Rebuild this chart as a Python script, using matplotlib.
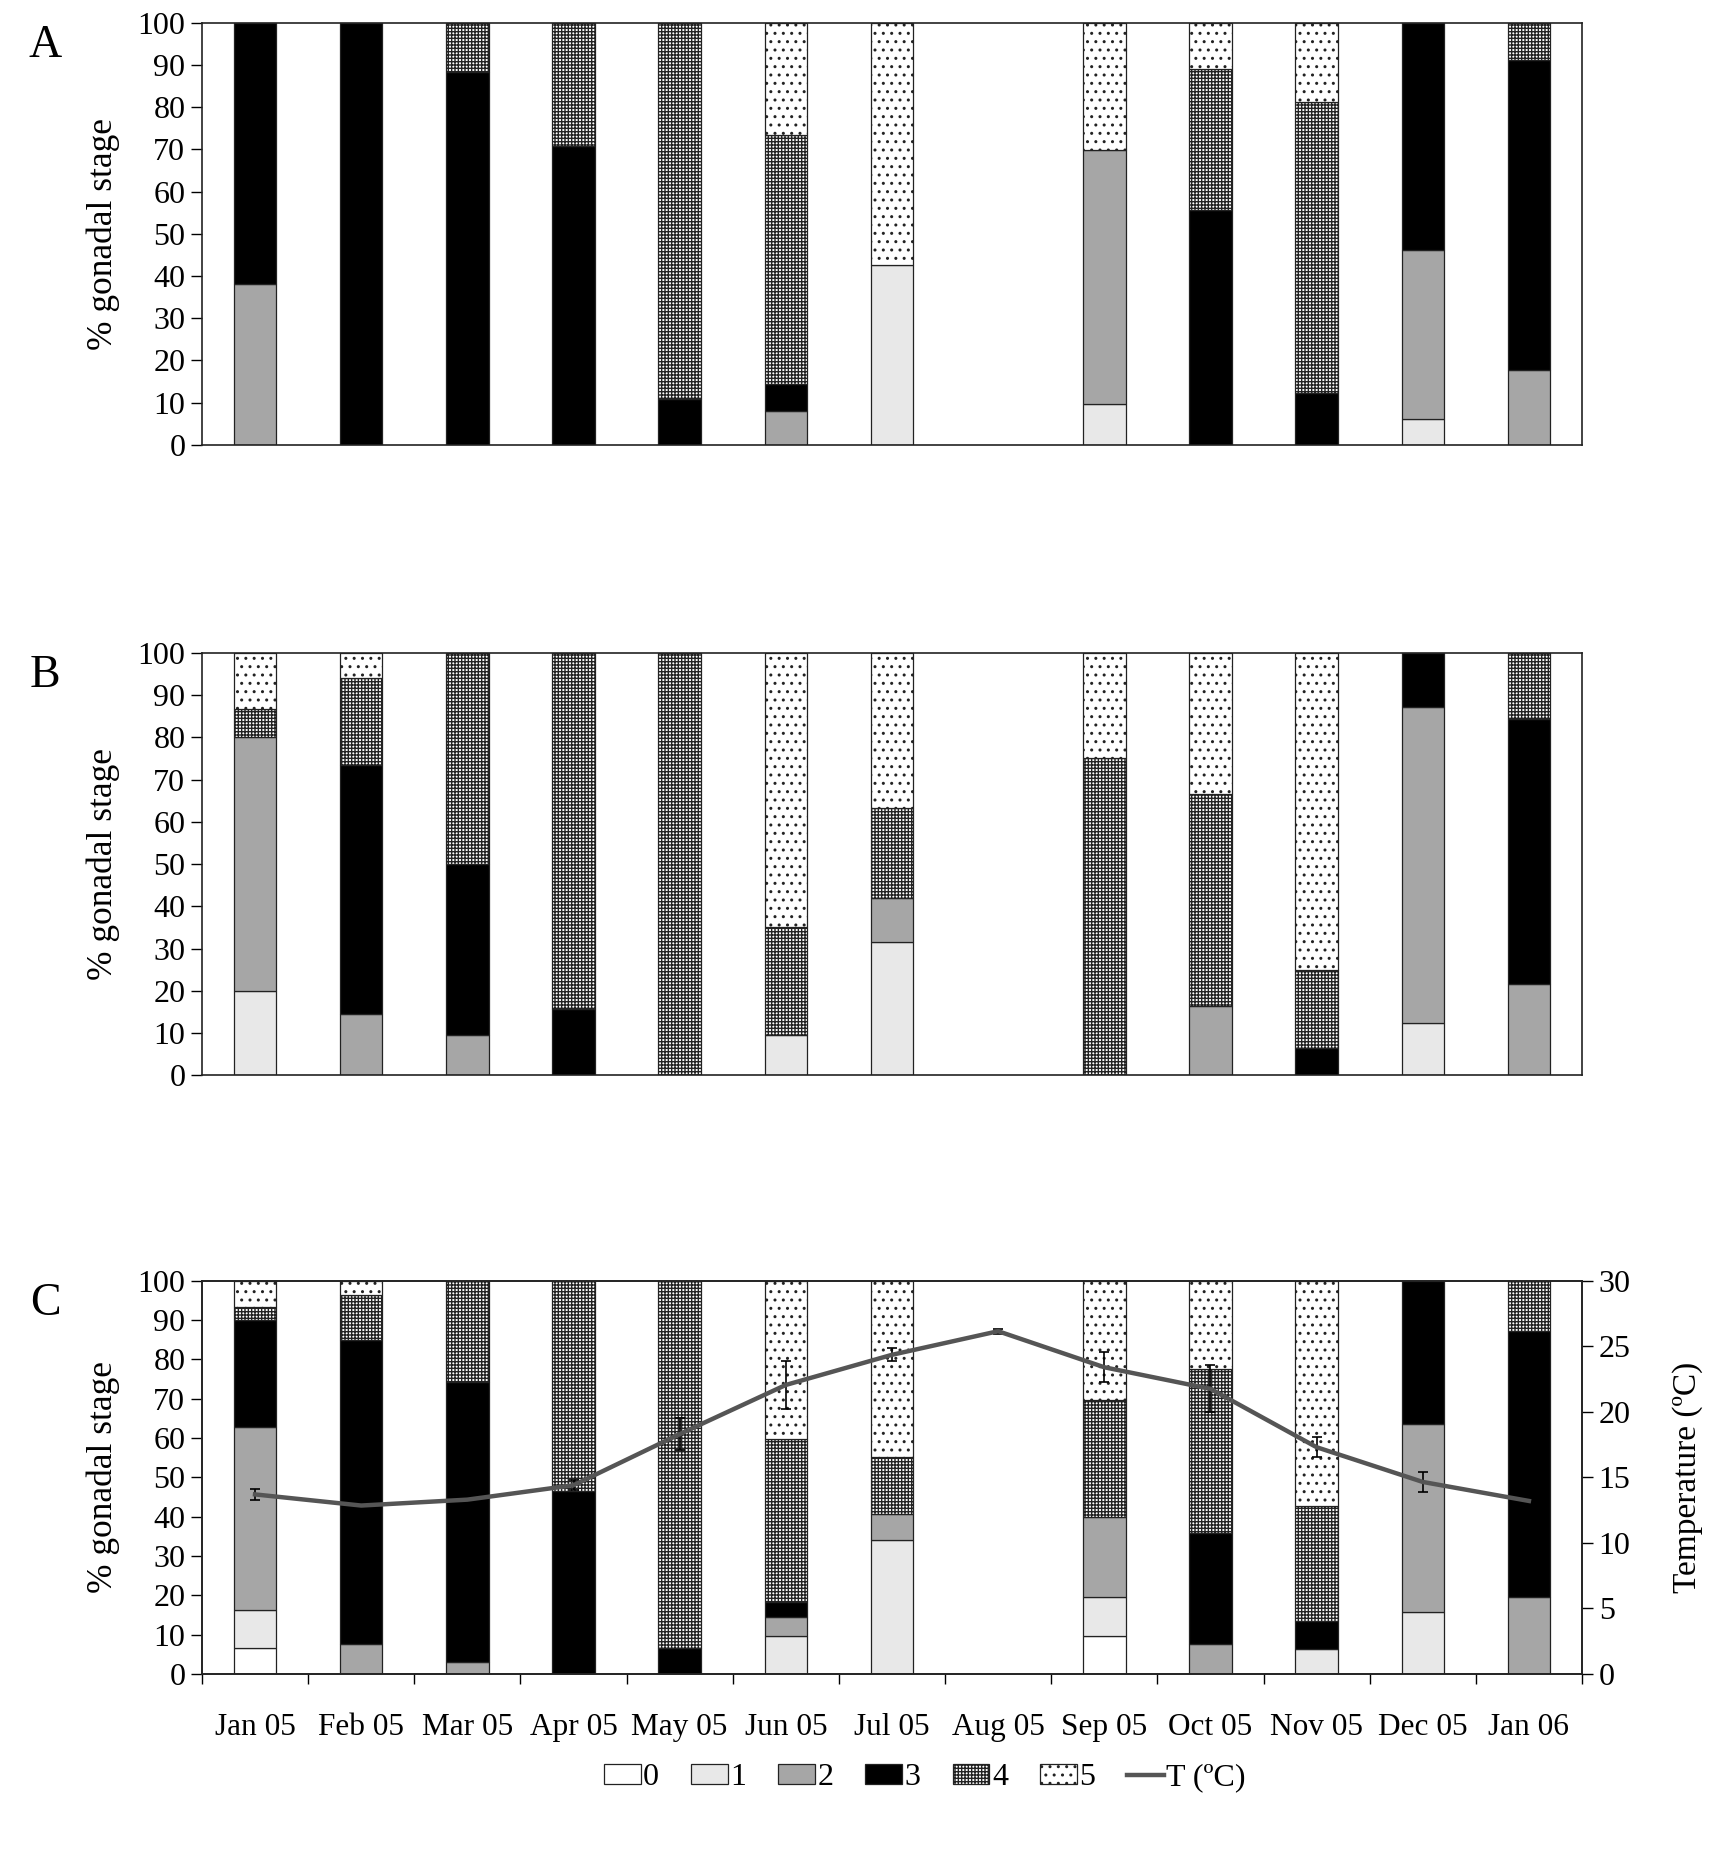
import matplotlib
matplotlib.use("Agg")
import matplotlib.pyplot as plt
from matplotlib.patches import Patch
from matplotlib.lines import Line2D
import numpy as np

plt.rcParams['font.family'] = ['Liberation Serif', 'DejaVu Serif']
plt.rcParams['font.size'] = 23
plt.rcParams['hatch.linewidth'] = 1.0

months = ["Jan 05", "Feb 05", "Mar 05", "Apr 05", "May 05", "Jun 05", "Jul 05",
          "Aug 05", "Sep 05", "Oct 05", "Nov 05", "Dec 05", "Jan 06"]
stage_labels = ["0", "1", "2", "3", "4", "5"]

# Panel A (% per gonadal stage)
A_s0 = [0, 0, 0, 0, 0, 0, 0, 0, 0, 0, 0, 0, 0]
A_s1 = [0, 0, 0, 0, 0, 0, 42.5, 0, 9.8, 0, 0, 6.2, 0]
A_s2 = [38.0, 0, 0, 0, 0, 8.1, 0, 0, 60.0, 0, 0, 40.0, 17.7]
A_s3 = [62.0, 100, 88.4, 70.8, 11.0, 6.3, 0, 0, 0, 55.6, 12.2, 53.8, 73.4]
A_s4 = [0, 0, 11.6, 29.2, 89.0, 59.0, 0, 0, 0, 33.3, 68.9, 0, 8.9]
A_s5 = [0, 0, 0, 0, 0, 26.6, 57.5, 0, 30.2, 11.1, 18.9, 0, 0]

# Panel B
B_s0 = [0, 0, 0, 0, 0, 0, 0, 0, 0, 0, 0, 0, 0]
B_s1 = [20.0, 0, 0, 0, 0, 9.5, 31.5, 0, 0, 0, 0, 12.5, 0]
B_s2 = [60.0, 14.5, 9.5, 0, 0, 0, 10.5, 0, 0, 16.4, 0, 74.6, 21.5]
B_s3 = [0, 58.9, 40.5, 15.6, 0, 0, 0, 0, 0, 0, 6.4, 12.9, 62.9]
B_s4 = [6.7, 20.7, 50.0, 84.4, 100, 25.7, 21.2, 0, 75.2, 50.2, 18.5, 0, 15.6]
B_s5 = [13.3, 5.9, 0, 0, 0, 64.8, 36.8, 0, 24.8, 33.4, 75.1, 0, 0]

# Panel C
C_s0 = [6.5, 0, 0, 0, 0, 0, 0, 0, 9.7, 0, 0, 0, 0]
C_s1 = [9.8, 0, 0, 0, 0, 9.7, 34.0, 0, 9.8, 0, 6.4, 15.7, 0]
C_s2 = [46.4, 7.7, 3.0, 0, 0, 4.9, 6.7, 0, 20.3, 7.7, 0, 47.9, 19.6]
C_s3 = [27.3, 77.2, 71.2, 46.6, 6.7, 3.8, 0, 0, 0, 28.1, 7.1, 36.4, 67.5]
C_s4 = [3.2, 11.6, 25.8, 53.4, 93.3, 41.4, 14.4, 0, 29.9, 41.8, 29.3, 0, 12.9]
C_s5 = [6.8, 3.5, 0, 0, 0, 40.2, 44.9, 0, 30.3, 22.4, 57.2, 0, 0]

# Temperature (ºC), mean and error
temp = [13.7, 12.85, 13.3, 14.4, 18.3, 22.05, 24.35, 26.15, 23.4, 21.75, 17.3, 14.65, 13.2]
temp_err = [0.4, 0, 0, 0.4, 1.2, 1.85, 0.5, 0.2, 1.15, 1.8, 0.75, 0.75, 0]

# styles per stage
faces = ["white", "#e8e8e8", "#a6a6a6", "black", "white", "white"]
hatches = [None, None, None, None, "+++++", ".."]

fig = plt.figure(figsize=(17.32, 18.54), dpi=100)
left, width = 0.1166, 0.7968
ax_A = fig.add_axes([left, 0.7600, width, 0.2278])
ax_B = fig.add_axes([left, 0.4200, width, 0.2279])
ax_C = fig.add_axes([left, 0.0971, width, 0.2121])

x = np.arange(len(months))

def draw_panel(ax, stages, letter, show_x):
    bottom = np.zeros(len(months))
    for i, vals in enumerate(stages):
        vals = np.array(vals, dtype=float)
        lw = [0.9 if v > 0 else 0 for v in vals]
        ax.bar(x, vals, width=0.4, bottom=bottom, color=faces[i],
               edgecolor="#222222", linewidth=lw, hatch=hatches[i], zorder=2)
        bottom += vals
    ax.set_xlim(-0.5, len(months) - 0.5)
    ax.set_ylim(0, 100)
    ax.set_yticks(np.arange(0, 101, 10))
    ax.tick_params(axis='y', direction='out', length=8, width=1.0, pad=4,
                   labelsize=23)
    for sp in ax.spines.values():
        sp.set_linewidth(1.2)
        sp.set_color("#222222")
    if show_x:
        ax.set_xticks(np.arange(-0.5, len(months), 1.0))
        ax.set_xticklabels([])
        ax.set_xticks(x, minor=True)
        ax.set_xticklabels(months, minor=True)
        ax.tick_params(axis='x', which='major', direction='out', length=7.5, width=1.0)
        ax.tick_params(axis='x', which='minor', length=0, pad=28, labelsize=22.5)
    else:
        ax.set_xticks([])
    ax.set_ylabel("% gonadal stage", fontsize=25.5)
    ax.yaxis.set_label_coords(-0.0594, 0.5)
    pos = ax.get_position()
    fig.text(0.026, pos.y1 - 0.0125, letter, fontsize=33, ha='center', va='center')

draw_panel(ax_A, [A_s0, A_s1, A_s2, A_s3, A_s4, A_s5], "A", False)
draw_panel(ax_B, [B_s0, B_s1, B_s2, B_s3, B_s4, B_s5], "B", False)
draw_panel(ax_C, [C_s0, C_s1, C_s2, C_s3, C_s4, C_s5], "C", True)

# Temperature line on secondary axis
ax_T = ax_C.twinx()
ax_T.set_ylim(0, 30)
ax_T.set_yticks(np.arange(0, 31, 5))
ax_T.tick_params(axis='y', direction='out', length=8, width=1.0, labelsize=23, pad=4)
ax_T.set_ylabel("Temperature (ºC)", fontsize=24)
ax_T.yaxis.set_label_coords(1.065, 0.5)
for sp in ax_T.spines.values():
    sp.set_linewidth(1.2)
    sp.set_color("#222222")
temp_arr = np.array(temp)
err_arr = np.array(temp_err)
mask = err_arr > 0
ax_T.errorbar(x[mask], temp_arr[mask], yerr=err_arr[mask], fmt='none',
              ecolor='black', elinewidth=1.2, capsize=3.5, capthick=1.2, zorder=3)
ax_T.plot(x, temp_arr, color="#555555", linewidth=3.2, zorder=4)

# Legend
handles = [Patch(facecolor=faces[i], edgecolor="#222222", hatch=hatches[i],
                 linewidth=0.9) for i in range(6)]
handles.append(Line2D([0], [0], color="#555555", linewidth=3.2))
labels = stage_labels + ["T (ºC)"]
fig.legend(handles, labels, loc='center', bbox_to_anchor=(0.534, 0.041),
           ncol=7, frameon=False, fontsize=23, handlelength=1.15,
           handleheight=0.6, handletextpad=0.08, columnspacing=1.0)

fig.savefig("out.png", dpi=100, facecolor="white")
